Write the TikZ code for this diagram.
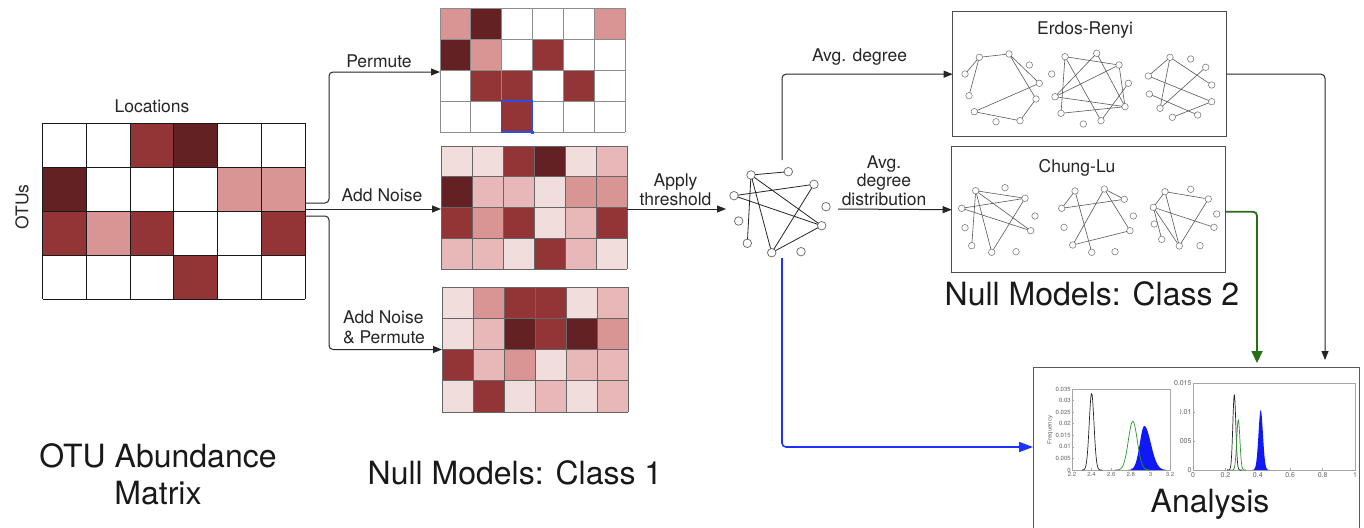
\documentclass[tikz,border=0pt]{standalone}
\usepackage{fontspec}
\setmainfont{TeX Gyre Heros}
\usetikzlibrary{arrows.meta,calc}
\definecolor{mW}{RGB}{255,255,255}
\definecolor{mD}{RGB}{100,33,35}
\definecolor{mM}{RGB}{147,52,54}
\definecolor{mP}{RGB}{217,148,148}
\definecolor{mA}{RGB}{232,184,184}
\definecolor{mB}{RGB}{242,221,221}
\definecolor{selblue}{RGB}{40,80,230}
\definecolor{arrblue}{RGB}{30,50,255}
\definecolor{arrgreen}{RGB}{40,110,20}
\definecolor{fillblue}{RGB}{15,25,245}
\definecolor{curvegreen}{RGB}{40,150,40}
\newcommand\mymat[6]{%
  \foreach \row [count=\r from 0] in {#6}{%
    \foreach \cc [count=\k from 0] in \row{%
      \fill[fill=\cc] ({#1+\k*#3},{#2+\r*#4}) rectangle ++(#3,#4);}}%
  \foreach \k in {0,...,6}{\draw[#5] ({#1+\k*#3},#2) -- ++(0,{4*#4});}%
  \foreach \r in {0,...,4}{\draw[#5] (#1,{#2+\r*#4}) -- ++({6*#3},0);}%
}
\begin{document}
\begin{tikzpicture}[x=1pt,y=-1pt,
  every node/.style={inner sep=0pt, outer sep=0pt},
  lab/.style={font=\fontsize{17.5}{19}\selectfont, text=black!85, anchor=base},
  big/.style={font=\fontsize{32}{36}\selectfont, text=black!90, anchor=base},
  hold/.style={rectangle, draw=none, anchor=north west},
  framebox/.style={rectangle, draw=black!70, line width=1pt, anchor=north west},
  arr/.style={draw=black!85, line width=1pt, rounded corners=4pt, -{Triangle[length=9pt,width=7pt]}},
  garr/.style={draw=arrgreen, line width=1.8pt, rounded corners=4pt, shorten >=4pt, -{Triangle[length=12pt,width=11pt]}},
  barr/.style={draw=arrblue, line width=1.6pt, rounded corners=4pt, -{Triangle[length=14pt,width=10pt]}},
  gn/.style={circle, draw=black!50, fill=white, line width=0.6pt, minimum size=6.5pt},
  cn/.style={circle, draw=black!60, fill=white, line width=0.7pt, minimum size=8.5pt},
  ge/.style={draw=black!65, line width=0.6pt},
  ce/.style={draw=black!85, line width=0.8pt},
  tk/.style={font=\fontsize{6}{6}\selectfont, text=black!60},
  tkb/.style={font=\fontsize{7}{7}\selectfont, text=black!60},
  pframe/.style={draw=black!35, line width=0.6pt}
]
\useasboundingbox (0,0) rectangle (1364,527);
\fill[white] (0,0) rectangle (1364,527);

% ---------- matrices ----------
\mymat{42.7}{123}{43.72}{44}{{draw=black!90, line width=1pt}}{{mW,mW,mM,mD,mW,mW},{mD,mW,mW,mW,mP,mP},{mM,mP,mM,mW,mW,mM},{mW,mW,mW,mM,mW,mW}}
\node[hold, minimum width=262.3pt, minimum height=176pt] (M0) at (42.7,123) {};

\mymat{440}{8}{30.83}{31}{{draw=black!45, line width=0.8pt}}{{mP,mD,mW,mW,mW,mP},{mD,mP,mW,mM,mW,mW},{mW,mM,mM,mW,mM,mW},{mW,mW,mM,mW,mW,mW}}
\node[hold, minimum width=185pt, minimum height=124pt] (M1) at (440,8) {};
\draw[draw=selblue, line width=1.3pt] (501.7,101) rectangle (532.5,132);
\fill[fill=selblue] (531,130.5) rectangle (534,133.5);

\mymat{441}{146}{31}{30.75}{{draw=black!60, line width=0.8pt}}{{mB,mB,mM,mD,mB,mA},{mD,mA,mA,mB,mP,mP},{mM,mP,mM,mB,mA,mM},{mA,mA,mB,mM,mA,mB}}
\node[hold, minimum width=186pt, minimum height=123pt] (M2) at (441,146) {};

\mymat{442}{287}{31}{31.25}{{draw=black!60, line width=0.8pt}}{{mB,mP,mM,mM,mB,mA},{mB,mA,mD,mM,mD,mP},{mM,mA,mP,mB,mA,mA},{mB,mM,mB,mA,mB,mA}}
\node[hold, minimum width=186pt, minimum height=125pt] (M3) at (442,287) {};

% ---------- labels ----------
\node[lab] (tLoc) at (152,112) {Locations};
\node[font=\fontsize{17.5}{19}\selectfont, text=black!85, rotate=90] (tOTU) at (22,207) {OTUs};
\node[lab] (tPerm) at (379,67) {Permute};
\node[lab] (tNoise) at (382,201) {Add Noise};
\node[lab, anchor=base west] (tNP1) at (343,323.3) {Add Noise};
\node[lab, anchor=base west] (tNP2) at (343,343.3) {\& Permute};
\node[lab] (tAp1) at (675.5,186.7) {Apply};
\node[lab] (tAp2) at (675.5,205) {threshold};
\node[lab] (tAvg) at (859.5,61.7) {Avg. degree};
\node[lab] (tAd1) at (884,168.3) {Avg.};
\node[lab] (tAd2) at (884,186.7) {degree};
\node[lab] (tAd3) at (884,205) {distribution};

\node[big] (tOTUa) at (158,467) {OTU Abundance};
\node[big] (tOTUb) at (158,504) {Matrix};
\node[big] (tNM1) at (515,484) {Null Models: Class 1};
\node[big] (tNM2) at (1092,305) {Null Models: Class 2};

% ---------- central network ----------
\node[rectangle, minimum width=112pt, minimum height=98pt] (N0) at (782,209) {};
\foreach \n/\px/\py in {a/751/175, b/788.3/171.7, c/814/184.3, d/734/195.7, e/826/206.7, f/738.7/221, g/821.7/225.7, h/747.3/243.3, i/771.7/252.7, j/801/251.7}
  \node[cn] (c\n) at (\px,\py) {};
\foreach \p/\q in {a/b, a/g, a/i, d/c, d/g, h/a, c/i, g/i}
  \draw[ce] (c\p) -- (c\q);

% ---------- Erdos-Renyi ----------
\node[framebox, minimum width=274pt, minimum height=125pt] (ER) at (952.7,11.7) {};
\node[lab] (tER) at (1085,34.3) {Erdos-Renyi};
\foreach \n/\px/\py in {a/979.3/57.3, b/1009/54, c/1029.3/65, d/965/74, e/1039.3/83.3, f/969/95.7, g/1036/99, h/974.3/111.7, i/996/121.7, j/1020/120.7}
  \node[gn] (ea\n) at (\px,\py) {};
\foreach \p/\q in {a/b, d/a, a/f, b/e, b/g, g/j, h/e, h/j}
  \draw[ge] (ea\p) -- (ea\q);
\foreach \n/\px/\py in {k/1065/56.7, l/1096.7/53.3, m/1119/65, n/1051.7/74, o/1128.3/83.3, p/1055/96.7, q/1125/106.7, r/1061/113.3, s/1083.3/124, t/1101/120.7}
  \node[gn] (eb\n) at (\px,\py) {};
\foreach \p/\q in {k/m, k/r, r/q, k/t, l/p, l/q, p/m, p/q, m/q, o/t}
  \draw[ge] (eb\p) -- (eb\q);
\foreach \n/\px/\py in {u/1170/57.3, v/1190.7/59, w/1205.7/67.3, x/1148.3/76, y/1211.7/85, z/1149.3/94, A/1211.7/101.7, B/1160/108.3, C/1197.7/115, D/1172.3/117.3}
  \node[gn] (ec\n) at (\px,\py) {};
\foreach \p/\q in {u/x, u/B, u/y, x/A, z/C, w/B, D/A}
  \draw[ge] (ec\p) -- (ec\q);

% ---------- Chung-Lu ----------
\node[framebox, minimum width=274pt, minimum height=126pt] (CL) at (951.7,146.7) {};
\node[lab] (tCL) at (1077,172.3) {Chung-Lu};
\foreach \n/\px/\py in {A/975.7/190.7, B/1005/187.7, C/1025/198.3, D/961.7/208.3, E/1035/216, F/965/227.7, G/1030.7/230.7, H/971.7/245.7, I/991.7/252.3, J/1016/251.7}
  \node[gn] (ca\n) at (\px,\py) {};
\foreach \p/\q in {A/C, A/G, A/I, D/C, D/G, H/A, C/I}
  \draw[ge] (ca\p) -- (ca\q);
\foreach \n/\px/\py in {K/1075/191, L/1104.3/189, M/1124.3/199.3, N/1061.7/208.3, O/1133.3/216, P/1064/227.3, Q/1130/230.7, R/1072.7/245, S/1091.7/252.3, T/1115/251.7}
  \node[gn] (cb\n) at (\px,\py) {};
\foreach \p/\q in {K/N, K/S, N/M, L/M, L/R, L/Q, R/Q}
  \draw[ge] (cb\p) -- (cb\q);
\foreach \n/\px/\py in {U/1165/191.7, V/1190.7/189.3, W/1208.3/199, X/1153.3/207.3, Y/1216.7/214, Z/1154.3/224, A/1214/227.3, B/1161.7/239.3, C/1179.3/246, D/1200/245.7}
  \node[gn] (cc\n) at (\px,\py) {};
\foreach \p/\q in {U/X, U/W, U/C, X/A, X/B, X/C, W/C}
  \draw[ge] (cc\p) -- (cc\q);

% ---------- Analysis ----------
\node[framebox, draw=black!65, minimum width=326pt, minimum height=166pt] (AN) at (1033,367) {};

% right plot
\draw[pframe] (1193,383) rectangle (1355,470);
\foreach \v/\yy [count=\i] in {0.015/383, 0.01/412, 0.005/441, 0/470}{
  \node[tkb, anchor=east] (ry\i) at (1191.5,\yy) {\v};
  \draw[pframe] (1193,\yy) -- ++(2,0);}
\foreach \v/\xx [count=\i] in {0/1193, 0.2/1225.4, 0.4/1257.8, 0.6/1290.2, 0.8/1322.6, 1/1355}{
  \node[tkb, anchor=north] (rx\i) at (\xx,472.5) {\v};
  \draw[pframe] (\xx,470) -- ++(0,-2);}
\fill[fillblue] (1252,470) -- plot[domain=1252:1270, samples=50] (\x,{470-60*exp(-(\x-1260.7)*(\x-1260.7)/(2*2.2*2.2))}) -- (1270,470) -- cycle;
\draw[black!85, line width=0.7pt] plot[domain=1227:1242, samples=60] (\x,{470-75*exp(-(\x-1234.3)*(\x-1234.3)/(2*1.5*1.5))});
\draw[curvegreen, line width=0.7pt] plot[domain=1231:1246, samples=60] (\x,{470-50*exp(-(\x-1238.3)*(\x-1238.3)/(2*1.6*1.6))});

% cover of the left plot
\fill[white] (1040,386) rectangle (1180,485);

% left plot
\draw[pframe] (1072,389) rectangle (1170,470);
\foreach \v/\yy [count=\i] in {0.035/389, 0.03/400.6, 0.025/412.1, 0.02/423.7, 0.015/435.3, 0.01/446.9, 0.005/458.4, 0/470}{
  \node[tk, anchor=east] (ly\i) at (1070.7,\yy) {\v};
  \draw[pframe] (1072,\yy) -- ++(2,0);}
\foreach \v/\xx [count=\i] in {2.2/1072, 2.4/1091.6, 2.6/1111.2, 2.8/1130.8, 3/1150.4, 3.2/1170}{
  \node[tk, anchor=north] (lx\i) at (\xx,472.5) {\v};
  \draw[pframe] (\xx,470) -- ++(0,-2);}
\node[tk, rotate=90] (lfreq) at (1050,430) {Frequency};
\fill[fillblue] (1128,470) -- plot[domain=1128:1144.3, samples=40] (\x,{470-44*exp(-(\x-1144.3)*(\x-1144.3)/(2*4.5*4.5))}) -- plot[domain=1144.3:1166, samples=40] (\x,{470-44*exp(-(\x-1144.3)*(\x-1144.3)/(2*6.5*6.5))}) -- (1166,470) -- cycle;
\draw[black!85, line width=0.7pt] plot[domain=1082:1102, samples=60] (\x,{470-76.4*exp(-(\x-1091.6)*(\x-1091.6)/(2*2.4*2.4))});
\draw[curvegreen, line width=0.7pt] plot[domain=1115:1150, samples=70] (\x,{470-48.6*exp(-(\x-1132.8)*(\x-1132.8)/(2*4.5*4.5))});

\node[big] (tAN) at (1210,512) {Analysis};

% ---------- connectors ----------
\draw[arr] ([yshift=8pt]M0.east) -- ++(24,0) |- ([yshift=-2pt]M1.west);
\draw[arr] ([yshift=2pt]M0.east) -- ([yshift=-1.5pt]M2.west);
\draw[arr] ([yshift=-5pt]M0.east) -- ++(24,0) |- (M3.west);
\draw[arr] ([yshift=-1.5pt]M2.east) -- (N0.west);
\draw[arr] (N0.north) |- (ER.west);
\draw[arr] (N0.east) -- (CL.west);
\draw[arr, shorten >=7pt] (ER.east) -| ([xshift=129pt]AN.north);
\draw[garr] ([yshift=-2pt]CL.east) -| ([xshift=61pt]AN.north);
\draw[barr] (N0.south) |- ([yshift=3pt]AN.west);
\end{tikzpicture}
\end{document}
